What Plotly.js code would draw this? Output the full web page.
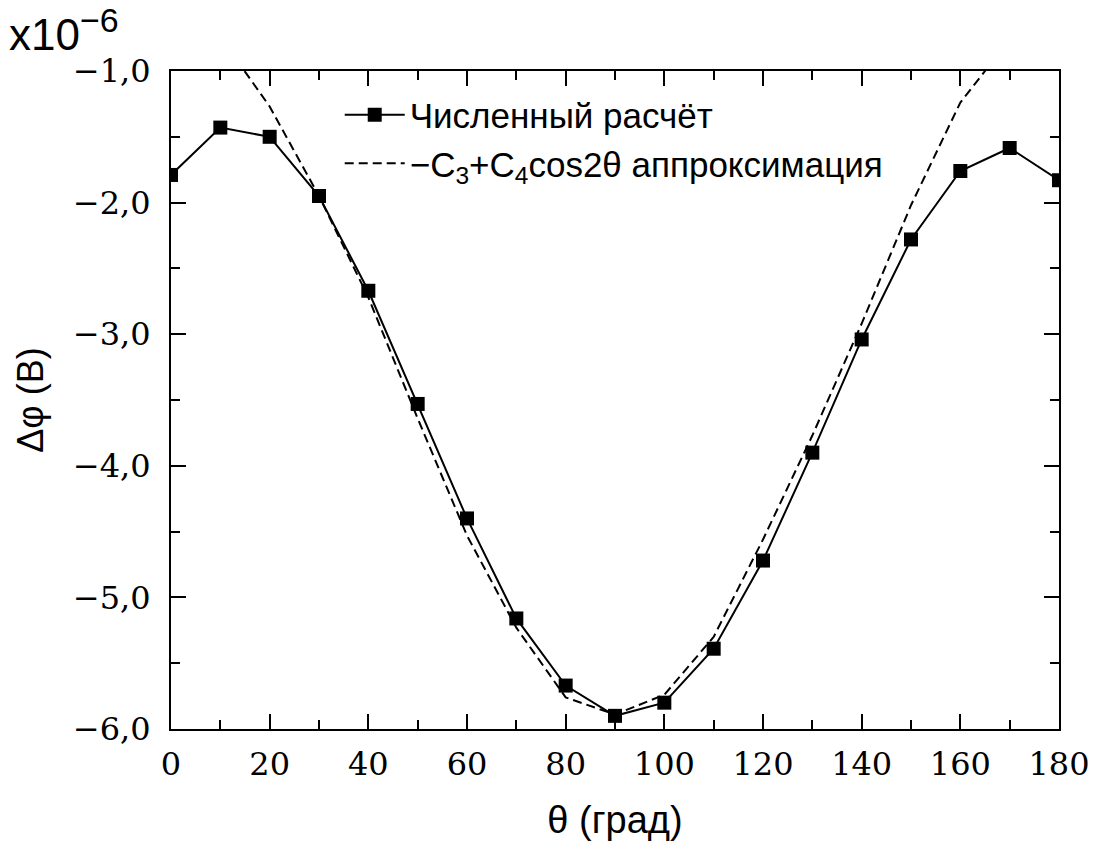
<!DOCTYPE html>
<html>
<head>
<meta charset="utf-8">
<script src="https://cdn.plot.ly/plotly-3.0.1.min.js"></script>
<style>html,body{margin:0;padding:0;background:#fff;}#chart{width:1099px;height:857px;}</style>
</head>
<body>
<div id="chart"></div>
<script>
// Numerical calculation (θ in degrees, Δφ in units of 1e-6 V)
var thetaNum = [0, 10, 20, 30, 40, 50, 60, 70, 80, 90, 100, 110, 120, 130, 140, 150, 160, 170, 180];
var dphiNum = [-1.79, -1.43, -1.50, -1.95, -2.67, -3.53, -4.40, -5.16, -5.67, -5.90, -5.80, -5.39, -4.72, -3.90, -3.04, -2.28, -1.76, -1.585, -1.83];

// Approximation curve −C3 + C4 cos2θ
var thetaFit = [10, 20, 30, 40, 50, 60, 70, 80, 90, 100, 110, 120, 130, 140, 150, 160, 170];
var dphiFit = [-0.74, -1.27, -1.95, -2.72, -3.64, -4.53, -5.23, -5.76, -5.89, -5.74, -5.30, -4.56, -3.77, -2.92, -2.02, -1.24, -0.76];

var xTickVals = [0, 20, 40, 60, 80, 100, 120, 140, 160, 180];
var yTickVals = [-6, -5, -4, -3, -2, -1];

var nameNum = 'Численный расчёт';
var nameFit = '−C<sub>3</sub>+C<sub>4</sub>cos2θ аппроксимация';

var traces = [
  {
    x: thetaNum, y: dphiNum, name: nameNum, type: 'scatter', mode: 'lines+markers',
    line: {color: '#000', width: 2},
    marker: {symbol: 'square', size: 14, color: '#000'}
  },
  {
    x: thetaFit, y: dphiFit, name: nameFit, type: 'scatter', mode: 'lines',
    line: {color: '#000', width: 2, dash: '9px,5px'}
  }
];

var serif = 'DejaVu Serif';
var sans = 'Liberation Sans';

var layout = {
  width: 1099, height: 857,
  margin: {l: 171, r: 40, t: 71, b: 128},
  paper_bgcolor: '#fff', plot_bgcolor: '#fff',
  separators: ', ',
  showlegend: true,
  legend: {
    x: 0.19, y: 0.978, xanchor: 'left', yanchor: 'top',
    bgcolor: 'rgba(0,0,0,0)', borderwidth: 0,
    font: {family: sans, size: 35, color: '#000'},
    itemwidth: 60, tracegroupgap: 0
  },
  xaxis: {
    range: [0, 180], tickvals: xTickVals, ticks: 'inside', ticklen: 15, tickwidth: 2, tickcolor: '#000',
    minor: {dtick: 10, ticks: 'inside', ticklen: 9, tickwidth: 2, tickcolor: '#000', showgrid: false},
    showline: true, linewidth: 2, linecolor: '#000', mirror: 'allticks',
    showgrid: false, zeroline: false,
    tickfont: {family: serif, size: 32, color: '#000'},
    ticklabelstandoff: 6,
    title: {text: 'θ (град)', font: {family: sans, size: 38, color: '#000'}, standoff: 24}
  },
  yaxis: {
    range: [-6, -1], tickvals: yTickVals, tickformat: '.1f', ticks: 'inside', ticklen: 15, tickwidth: 2, tickcolor: '#000',
    minor: {dtick: 0.5, ticks: 'inside', ticklen: 9, tickwidth: 2, tickcolor: '#000', showgrid: false},
    showline: true, linewidth: 2, linecolor: '#000', mirror: 'allticks',
    showgrid: false, zeroline: false,
    tickfont: {family: serif, size: 32, color: '#000'},
    ticklabelstandoff: 12,
    title: {text: 'Δφ (В)', font: {family: sans, size: 36, color: '#000'}, standoff: 18}
  },
  annotations: [
    {
      text: 'x10<sup><span style="font-size:34px">−6</span></sup>', xref: 'paper', yref: 'paper',
      x: -0.185, y: 1.015, xanchor: 'left', yanchor: 'bottom', showarrow: false,
      font: {family: sans, size: 44, color: '#000'}
    }
  ]
};

Plotly.newPlot('chart', traces, layout, {displayModeBar: false, staticPlot: true});
</script>
</body>
</html>
